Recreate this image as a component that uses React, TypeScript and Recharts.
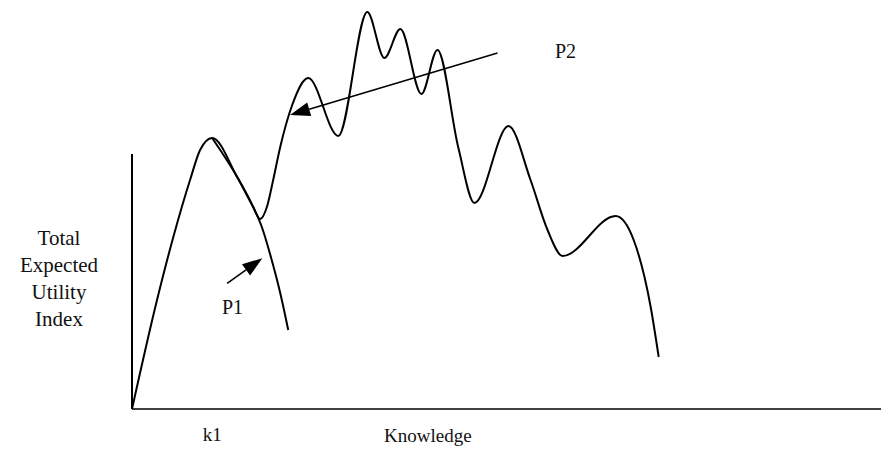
import { LineChart, Line, XAxis, YAxis, ReferenceLine } from 'recharts';

const WIDTH = 883;
const HEIGHT = 457;
const SERIF = '"Liberation Serif", "Times New Roman", serif';

// total expected utility along the knowledge axis (both in 0..100 units)
const pathKnowledge = [
  0, 3.34, 5.48, 7.75, 9.09, 10.7, 14.04, 16.18, 17.11, 18.05, 18.85, 19.79, 21.39, 23.53,
  27.54, 31.42, 33.69, 35.83, 38.64, 40.78, 43.58, 45.72, 50.27, 53.21, 55.48, 57.49,
  64.57, 66.98, 69.25, 70.32,
];
const pathUtility = [
  0, 27.25, 42.75, 57.25, 64.75, 67.75, 58.0, 50.5, 47.5, 50.75, 57.25, 65.5, 76.0, 82.75,
  68.25, 99.25, 87.75, 95.0, 78.75, 89.75, 65.25, 51.5, 70.75, 57.25, 44.75, 38.25,
  48.25, 42.25, 25.5, 13.0,
];

// single-peak branch P1, leaving the first peak and falling away
const p1Knowledge = [10.7, 14.04, 16.18, 17.38, 18.58, 19.79, 20.86];
const p1Utility = [67.75, 58.0, 50.5, 45.25, 37.75, 29.0, 19.75];

const xTicks = [10.7];
const xTickLabels = ['k1'];
const yAxisTop = 63.75;

// arrows: [tail, head]
const arrowP1 = [{ x: 12.7, y: 31.4 }, { x: 17.4, y: 37.7 }];
const arrowP2 = [{ x: 48.8, y: 89.0 }, { x: 21.1, y: 73.5 }];

const pathData = pathKnowledge.map((x, i) => ({ x, y: pathUtility[i] }));
const p1Data = p1Knowledge.map((x, i) => ({ x, y: p1Utility[i] }));

function Arrow(props: any) {
  const { x1, y1, x2, y2 } = props;
  const ang = Math.atan2(y2 - y1, x2 - x1);
  const len = 20;
  const half = 7;
  const bx = x2 - len * Math.cos(ang);
  const by = y2 - len * Math.sin(ang);
  const px = -Math.sin(ang) * half;
  const py = Math.cos(ang) * half;
  return (
    <g>
      <line x1={x1} y1={y1} x2={bx} y2={by} stroke="#000" strokeWidth={1.6} />
      <polygon points={`${x2},${y2} ${bx + px},${by + py} ${bx - px},${by - py}`} fill="#000" />
    </g>
  );
}

const textStyle = {
  position: 'absolute' as const,
  fontFamily: SERIF,
  color: '#111',
  whiteSpace: 'nowrap' as const,
};

export default function App() {
  return (
    <div style={{ position: 'absolute', left: 0, top: 0, width: WIDTH, height: HEIGHT, background: '#fff' }}>
      <LineChart width={WIDTH} height={HEIGHT} margin={{ top: 9, right: 2, bottom: 0, left: 132 }}>
        <XAxis
          dataKey="x"
          type="number"
          domain={[0, 100]}
          ticks={xTicks}
          tickFormatter={(v: number) => xTickLabels[xTicks.indexOf(v)]}
          tickLine={false}
          tickMargin={13}
          height={48}
          axisLine={{ stroke: '#000', strokeWidth: 1.6 }}
          tick={{ fill: '#111', fontFamily: SERIF, fontSize: 19 }}
        />
        <YAxis hide type="number" domain={[0, 100]} width={0} />
        <ReferenceLine
          segment={[{ x: 0, y: 0 }, { x: 0, y: yAxisTop }]}
          stroke="#000"
          strokeWidth={2}
        />
        <Line
          data={pathData}
          dataKey="y"
          type="monotone"
          stroke="#000"
          strokeWidth={2}
          dot={false}
          activeDot={false}
          isAnimationActive={false}
        />
        <Line
          data={p1Data}
          dataKey="y"
          type="monotone"
          stroke="#000"
          strokeWidth={2}
          dot={false}
          activeDot={false}
          isAnimationActive={false}
        />
        <ReferenceLine segment={arrowP1} shape={Arrow} />
        <ReferenceLine segment={arrowP2} shape={Arrow} />
      </LineChart>
      <div
        style={{
          ...textStyle,
          left: 4,
          top: 225,
          width: 110,
          textAlign: 'center',
          fontSize: 21,
          lineHeight: '27px',
        }}
      >
        Total<br />Expected<br />Utility<br />Index
      </div>
      <div style={{ ...textStyle, left: 384, top: 425, fontSize: 19, lineHeight: '22px' }}>Knowledge</div>
      <div style={{ ...textStyle, left: 222, top: 295, fontSize: 20, lineHeight: '24px' }}>P1</div>
      <div style={{ ...textStyle, left: 555, top: 39, fontSize: 20, lineHeight: '24px' }}>P2</div>
    </div>
  );
}
